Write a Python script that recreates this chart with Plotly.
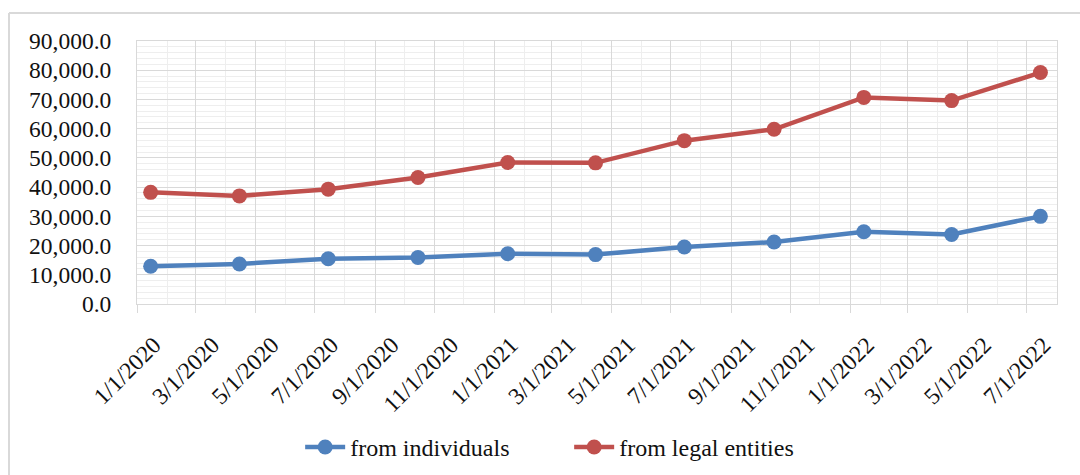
import plotly.graph_objects as go

dates = ["2020-01-15", "2020-04-15", "2020-07-15", "2020-10-15",
         "2021-01-15", "2021-04-15", "2021-07-15", "2021-10-15",
         "2022-01-15", "2022-04-15", "2022-07-15"]
individuals = [12900, 13700, 15500, 15900, 17200, 16900, 19500, 21200, 24700, 23800, 30000]
legal_entities = [38200, 37000, 39300, 43300, 48400, 48300, 55900, 59800, 70700, 69600, 79200]

series_names = ["from individuals", "from legal entities"]
colors = ["#4F81BD", "#C0504D"]

FONT = "Liberation Serif, Times New Roman, serif"

fig = go.Figure()
for name, vals, col in zip(series_names, [individuals, legal_entities], colors):
    fig.add_trace(go.Scatter(
        x=dates, y=vals, name=name, mode="lines+markers",
        line=dict(color=col, width=4.5),
        marker=dict(color=col, size=15),
    ))

fig.update_layout(
    width=1080, height=475,
    margin=dict(l=137, r=23, t=41, b=171),
    paper_bgcolor="white", plot_bgcolor="white",
    font=dict(family=FONT, size=23.5, color="#111111"),
    showlegend=True,
    legend=dict(orientation="h", xref="container", yref="container",
                x=0.527, y=0.058, xanchor="center", yanchor="middle",
                font=dict(family=FONT, size=24, color="#111111"),
                entrywidth=214, entrywidthmode="pixels",
                itemwidth=40, tracegroupgap=0),
    shapes=[
        dict(type="line", xref="paper", yref="paper",
             x0=-128/920, x1=1.03, y0=1 + 28/263, y1=1 + 28/263,
             line=dict(color="#d9d9d9", width=2)),
        dict(type="line", xref="paper", yref="paper",
             x0=-128/920, x1=-128/920, y0=1 + 28/263, y1=-0.7,
             line=dict(color="#d9d9d9", width=2)),
    ],
)

fig.update_xaxes(
    type="date",
    range=["2020-01-01", "2022-08-01"],
    tick0="2020-01-01", dtick="M2",
    tickformat="%-m/%-d/%Y",
    tickangle=-45,
    tickfont=dict(family=FONT, size=23.5, color="#111111"),
    ticks="outside", ticklen=8, tickcolor="#d9d9d9", tickwidth=1,
    ticklabelshift=17, ticklabelstandoff=9,
    showgrid=True, gridcolor="#d9d9d9", gridwidth=1,
    minor=dict(dtick="M1", tick0="2020-01-01", showgrid=True,
               gridcolor="#eeeeee", gridwidth=1),
    showline=True, linecolor="#d9d9d9", linewidth=1, mirror=True,
    zeroline=False, automargin=False,
)
fig.update_yaxes(
    range=[0, 90000], dtick=10000, tick0=0,
    tickformat=",.1f",
    showgrid=True, gridcolor="#d9d9d9", gridwidth=1,
    minor=dict(dtick=2000, showgrid=True, gridcolor="#eeeeee", gridwidth=1),
    showline=True, linecolor="#d9d9d9", linewidth=1, mirror=True,
    zeroline=False, automargin=False,
    ticks="", ticklabelstandoff=20,
)

fig.write_html("out.html")
